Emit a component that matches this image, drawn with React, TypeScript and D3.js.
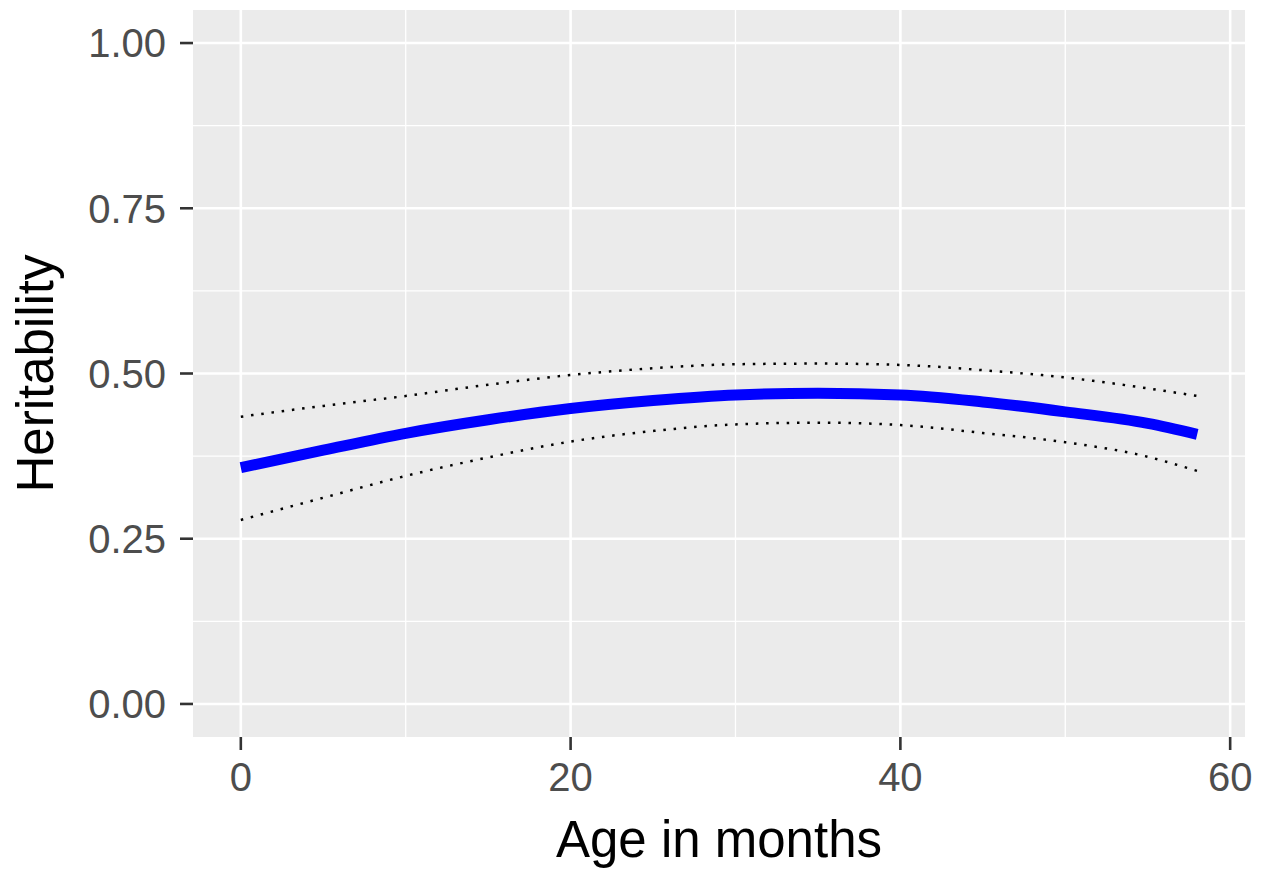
import React from "react";
import * as d3 from "d3";

const ages = [0, 5, 10, 15, 20, 25, 30, 35, 40, 45, 50, 55, 58];
const heritability = [0.3575, 0.384, 0.4095, 0.430, 0.447, 0.459, 0.4675, 0.470, 0.4675, 0.457, 0.442, 0.4245, 0.408];
const upperCI = [0.4346, 0.451, 0.466, 0.483, 0.4977, 0.508, 0.514, 0.515, 0.513, 0.505, 0.494, 0.4775, 0.466];
const lowerCI = [0.2784, 0.312, 0.345, 0.373, 0.397, 0.413, 0.423, 0.4256, 0.422, 0.410, 0.396, 0.374, 0.3525];
const xTicks = [0, 20, 40, 60];
const xMinor = [10, 30, 50];
const yTicks = [0, 0.25, 0.5, 0.75, 1.0];
const yMinor = [0.125, 0.375, 0.625, 0.875];
const yTickLabels = ["0.00", "0.25", "0.50", "0.75", "1.00"];

const W = 1269;
const H = 869;
const panel = { left: 193, right: 1245, top: 10, bottom: 737 };

export default function App() {
  const x = d3.scaleLinear().domain([-2.9, 60.9]).range([panel.left, panel.right]);
  const y = d3.scaleLinear().domain([-0.05, 1.05]).range([panel.bottom, panel.top]);

  const mk = (vals: number[]) =>
    d3
      .line<number>()
      .x((_, i) => x(ages[i]))
      .y((v) => y(v))
      .curve(d3.curveMonotoneX)(vals) || "";

  const font = "'Liberation Sans', Arial, sans-serif";

  return (
    <svg
      width={W}
      height={H}
      style={{ position: "absolute", left: 0, top: 0, background: "#fff" }}
      fontFamily={font}
    >
      <rect
        x={panel.left}
        y={panel.top}
        width={panel.right - panel.left}
        height={panel.bottom - panel.top}
        fill="#EBEBEB"
      />
      {xMinor.map((v) => (
        <line key={"xm" + v} x1={x(v)} x2={x(v)} y1={panel.top} y2={panel.bottom} stroke="#fff" strokeWidth={1.3} />
      ))}
      {yMinor.map((v) => (
        <line key={"ym" + v} x1={panel.left} x2={panel.right} y1={y(v)} y2={y(v)} stroke="#fff" strokeWidth={1.3} />
      ))}
      {xTicks.map((v) => (
        <line key={"xM" + v} x1={x(v)} x2={x(v)} y1={panel.top} y2={panel.bottom} stroke="#fff" strokeWidth={2.6} />
      ))}
      {yTicks.map((v) => (
        <line key={"yM" + v} x1={panel.left} x2={panel.right} y1={y(v)} y2={y(v)} stroke="#fff" strokeWidth={2.6} />
      ))}

      <path d={mk(upperCI)} fill="none" stroke="#000" strokeWidth={2.5} strokeDasharray="2.5 7.8" />
      <path d={mk(lowerCI)} fill="none" stroke="#000" strokeWidth={2.5} strokeDasharray="2.5 7.8" />
      <path d={mk(heritability)} fill="none" stroke="#0000FF" strokeWidth={11} />

      {xTicks.map((v) => (
        <g key={"xt" + v}>
          <line x1={x(v)} x2={x(v)} y1={panel.bottom} y2={panel.bottom + 13} stroke="#333" strokeWidth={2.6} />
          <text x={x(v)} y={791} textAnchor="middle" fontSize={40} fill="#4D4D4D">
            {v}
          </text>
        </g>
      ))}
      {yTicks.map((v, i) => (
        <g key={"yt" + v}>
          <line x1={panel.left - 13} x2={panel.left} y1={y(v)} y2={y(v)} stroke="#333" strokeWidth={2.6} />
          <text x={166} y={y(v)} dy="0.36em" textAnchor="end" fontSize={40} fill="#4D4D4D">
            {yTickLabels[i]}
          </text>
        </g>
      ))}

      <text x={(panel.left + panel.right) / 2} y={857} textAnchor="middle" fontSize={51} fill="#000">
        Age in months
      </text>
      <text
        transform={`translate(53, ${(panel.top + panel.bottom) / 2}) rotate(-90)`}
        textAnchor="middle"
        fontSize={51}
        fill="#000"
      >
        Heritability
      </text>
    </svg>
  );
}
